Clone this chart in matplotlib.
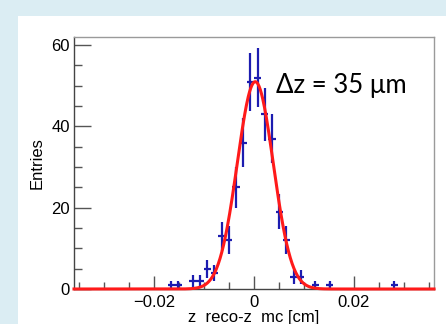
import numpy as np
import matplotlib.pyplot as plt
from matplotlib.patches import Rectangle
from matplotlib.ticker import MultipleLocator


# histogram: 50 bins from -0.036 to 0.036 cm, only filled bins listed
bin_lo = -0.036
bin_hi = 0.036
n_bins = 50
bin_index = [13, 14, 16, 17, 18, 19, 20, 21, 22, 23, 24, 25, 26, 27, 28, 29, 30, 31, 33, 35, 44]
entries = [1, 1, 2, 2, 5, 4, 13, 12, 25, 36, 51, 52, 43, 37, 19, 12, 3, 3, 1, 1, 1]

# gaussian fit parameters (cm)
fit_amp = 51.0
fit_mean = 0.00025
fit_sigma = 0.0036

x_ticks = [-0.02, 0, 0.02]
x_tick_labels = ["\u22120.02", "0", "0.02"]
y_ticks = [0, 20, 40, 60]

BLUE = "#1c1cb0"
RED = "#ff1a1a"


def gauss(x):
    return fit_amp * np.exp(-0.5 * ((x - fit_mean) / fit_sigma) ** 2)


fig = plt.figure(figsize=(4.46, 3.24), dpi=100)
fig.patch.set_facecolor("#dbedf3")
fig.patches.append(Rectangle((18 / 446, 0), 1, 1 - 16 / 324, transform=fig.transFigure,
                             facecolor="white", edgecolor="none", zorder=-1))

ax = fig.add_axes([74 / 446, 35 / 324, 360 / 446, 252 / 324])
ax.set_facecolor("white")

width = (bin_hi - bin_lo) / n_bins
centers = bin_lo + width * (np.array(bin_index) + 0.5)
counts = np.array(entries, dtype=float)

ax.errorbar(centers, counts, xerr=width / 2, yerr=np.sqrt(counts), fmt="none",
            ecolor=BLUE, elinewidth=1.6, capsize=0, zorder=3)

xs = np.linspace(bin_lo, bin_hi, 600)
ax.plot(xs, gauss(xs), color=RED, lw=2.2, zorder=4, clip_on=False)

ax.set_xlim(bin_lo, bin_hi)
ax.set_ylim(0, 62)

ax.set_xticks(x_ticks)
ax.set_xticklabels(x_tick_labels)
ax.xaxis.set_minor_locator(MultipleLocator(0.005))
ax.set_yticks(y_ticks)
ax.yaxis.set_minor_locator(MultipleLocator(5))

font = ["Liberation Sans", "DejaVu Sans"]
ax.tick_params(axis="both", which="both", direction="in", color="#555555",
               top=False, right=False, labelsize=12)
ax.tick_params(axis="y", which="major", length=12, width=1, pad=3)
ax.tick_params(axis="y", which="minor", length=6, width=1)
ax.tick_params(axis="x", which="major", length=9.5, width=1, pad=4)
ax.tick_params(axis="x", which="minor", length=5, width=1)
for lab in ax.get_xticklabels() + ax.get_yticklabels():
    lab.set_family(font)

for side in ["left", "bottom"]:
    ax.spines[side].set_color("#444444")
for side in ["top", "right"]:
    ax.spines[side].set_color("#9a9a9a")
for sp in ax.spines.values():
    sp.set_linewidth(1)

ax.set_ylabel("Entries", family=font, fontsize=12, labelpad=5)
ax.set_xlabel("z  reco-z  mc [cm]", family=font, fontsize=12, labelpad=0)

ax.text(276 / 446, 1 - 93 / 324, "\u0394z = 35 \u03bcm", transform=fig.transFigure,
        family=["Lato", "DejaVu Sans"], fontsize=18.5, color="black", va="baseline")

fig.savefig("out.png", dpi=100)
